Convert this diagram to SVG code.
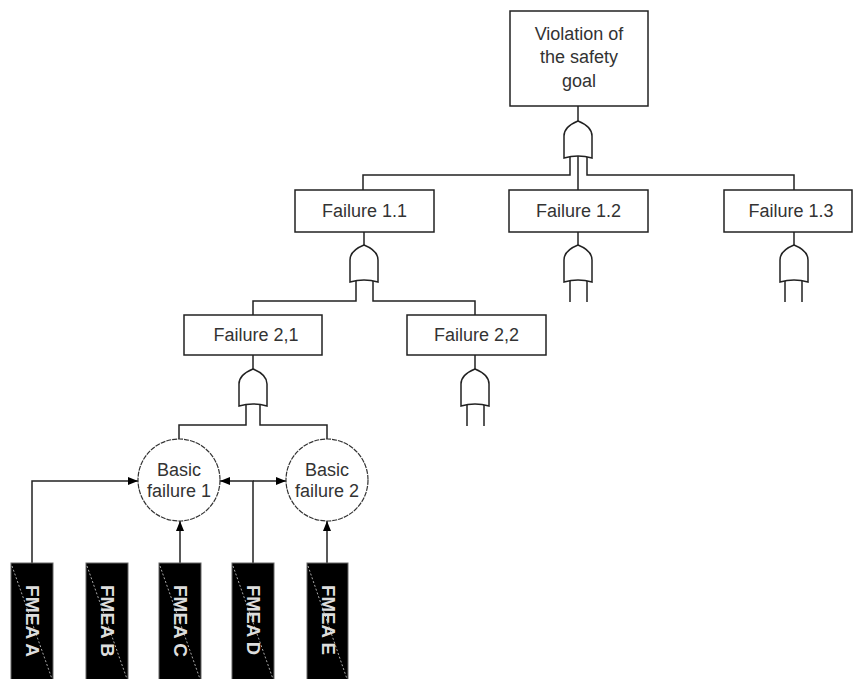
<svg xmlns="http://www.w3.org/2000/svg" width="854" height="679" viewBox="0 0 854 679">
  <style>
    .box { fill: #fff; stroke: #222; stroke-width: 1.5; }
    .lbl { font-family: "Liberation Sans", Arial, sans-serif; font-size: 18px; fill: #333; text-anchor: middle; }
    .gate { fill: #fff; stroke: #222; stroke-width: 1.5; }
    .wire { fill: none; stroke: #222; stroke-width: 1.5; }
    .event { fill: #fff; stroke: #333; stroke-width: 1.2; stroke-dasharray: 5 1; }
    .fmea { fill: #000; stroke: #666; stroke-width: 1; }
    .diag { stroke: #aaa; stroke-width: 1; stroke-dasharray: 2 2; }
    .ftxt { font-family: "Liberation Sans", Arial, sans-serif; font-size: 19px; font-weight: bold; fill: #ddd; text-anchor: middle; }
  </style>
  <defs>
    <marker id="arr" viewBox="0 0 10 8" refX="10" refY="4" markerWidth="10" markerHeight="8" markerUnits="userSpaceOnUse" orient="auto">
      <path d="M0,0 L10,4 L0,8 Z" fill="#000"/>
    </marker>
    <!-- gate body centred on x=0, top at y=0, bottom at y=37 -->
    <path id="gateShape" d="M-14,37 L-14,15 C-14,7 -5,2 0,0 C5,2 14,7 14,15 L14,37 Q0,33 -14,37 Z"/>
  </defs>

  <!-- connectors -->
  <g id="connectors">
    <!-- top event to gate -->
    <path class="wire" d="M578,106 V121"/>
    <path class="wire" d="M570,155 V175 H363 V190"/>
    <path class="wire" d="M587,155 V175 H794 V190"/>
    <path class="wire" d="M578,155 V190"/>
    <!-- failure 1.1 -->
    <path class="wire" d="M364,232 V245"/>
    <path class="wire" d="M356,281 V301 H253 V315"/>
    <path class="wire" d="M373,281 V301 H475 V315"/>
    <!-- failure 1.2 / 1.3 -->
    <path class="wire" d="M578,232 V245"/>
    <path class="wire" d="M570,281 V302 M587,281 V302"/>
    <path class="wire" d="M794,232 V245"/>
    <path class="wire" d="M785,281 V302 M802,281 V302"/>
    <!-- failure 2.1 -->
    <path class="wire" d="M253,355 V369"/>
    <path class="wire" d="M246,405 V425 H179 V439"/>
    <path class="wire" d="M260,405 V425 H327 V439"/>
    <!-- failure 2.2 -->
    <path class="wire" d="M475,355 V369"/>
    <path class="wire" d="M467,405 V426 M484,405 V426"/>
    <!-- FMEA sources to basic failures -->
    <path class="wire" d="M32,563 V481 H138" marker-end="url(#arr)"/>
    <path class="wire" d="M180,563 V521" marker-end="url(#arr)"/>
    <path class="wire" d="M253,563 V481 H220" marker-end="url(#arr)"/>
    <path class="wire" d="M253,481 H286" marker-end="url(#arr)"/>
    <path class="wire" d="M327,563 V521" marker-end="url(#arr)"/>
  </g>

  <!-- gates -->
  <g id="gates">
    <use href="#gateShape" class="gate" transform="translate(578,121)"/>
    <use href="#gateShape" class="gate" transform="translate(364,245)"/>
    <use href="#gateShape" class="gate" transform="translate(578,245)"/>
    <use href="#gateShape" class="gate" transform="translate(794,245)"/>
    <use href="#gateShape" class="gate" transform="translate(253,369)"/>
    <use href="#gateShape" class="gate" transform="translate(475,369)"/>
  </g>

  <g id="top-event">
    <rect class="box" x="510" y="11" width="138" height="95"/>
    <text class="lbl" x="579" y="40">Violation of</text>
    <text class="lbl" x="579" y="63">the safety</text>
    <text class="lbl" x="579" y="87">goal</text>
  </g>

  <g id="failure-1-1">
    <rect class="box" x="295" y="190" width="139" height="42"/>
    <text class="lbl" x="364.5" y="217">Failure 1.1</text>
  </g>
  <g id="failure-1-2">
    <rect class="box" x="509" y="190" width="139" height="42"/>
    <text class="lbl" x="578.5" y="217">Failure 1.2</text>
  </g>
  <g id="failure-1-3">
    <rect class="box" x="724" y="190" width="128" height="42"/>
    <text class="lbl" x="791" y="217">Failure 1.3</text>
  </g>
  <g id="failure-2-1">
    <rect class="box" x="184" y="315" width="138" height="40"/>
    <text class="lbl" x="256" y="341">Failure 2,1</text>
  </g>
  <g id="failure-2-2">
    <rect class="box" x="407" y="315" width="139" height="40"/>
    <text class="lbl" x="476.5" y="341">Failure 2,2</text>
  </g>

  <g id="basic-failure-1">
    <circle class="event" cx="179" cy="480" r="41"/>
    <text class="lbl" x="179" y="476">Basic</text>
    <text class="lbl" x="179" y="497">failure 1</text>
  </g>
  <g id="basic-failure-2">
    <circle class="event" cx="327" cy="480" r="41"/>
    <text class="lbl" x="327" y="476">Basic</text>
    <text class="lbl" x="327" y="497">failure 2</text>
  </g>

  <g id="fmea-a">
    <rect class="fmea" x="11" y="563" width="42" height="120"/>
    <line class="diag" x1="12" y1="566" x2="52" y2="679"/>
    <text class="ftxt" transform="translate(26,621) rotate(90)" textLength="72" lengthAdjust="spacingAndGlyphs">FMEA A</text>
  </g>
  <g id="fmea-b">
    <rect class="fmea" x="86" y="563" width="42" height="120"/>
    <line class="diag" x1="87" y1="566" x2="127" y2="679"/>
    <text class="ftxt" transform="translate(101,621) rotate(90)" textLength="72" lengthAdjust="spacingAndGlyphs">FMEA B</text>
  </g>
  <g id="fmea-c">
    <rect class="fmea" x="159" y="563" width="42" height="120"/>
    <line class="diag" x1="160" y1="566" x2="200" y2="679"/>
    <text class="ftxt" transform="translate(174,621) rotate(90)" textLength="72" lengthAdjust="spacingAndGlyphs">FMEA C</text>
  </g>
  <g id="fmea-d">
    <rect class="fmea" x="232" y="563" width="42" height="120"/>
    <line class="diag" x1="233" y1="566" x2="273" y2="679"/>
    <text class="ftxt" transform="translate(247,620) rotate(90)" textLength="70" lengthAdjust="spacingAndGlyphs">FMEA D</text>
  </g>
  <g id="fmea-e">
    <rect class="fmea" x="307" y="563" width="41" height="120"/>
    <line class="diag" x1="308" y1="566" x2="347" y2="679"/>
    <text class="ftxt" transform="translate(321.5,620) rotate(90)" textLength="70" lengthAdjust="spacingAndGlyphs">FMEA E</text>
  </g>
</svg>
